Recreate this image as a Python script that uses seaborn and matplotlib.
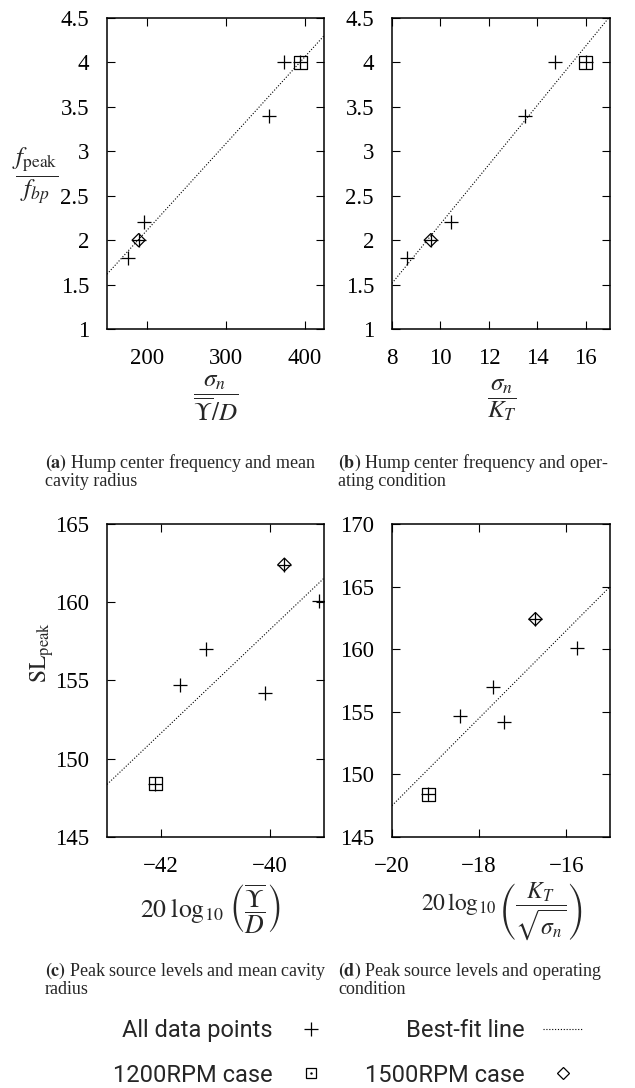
import numpy as np
import pandas as pd
import seaborn as sns
import matplotlib.pyplot as plt
from matplotlib.lines import Line2D

# Values (one entry per test case)
case_kind = ['other', '1500RPM', 'other', 'other', 'other', '1200RPM']
f_ratio = [1.8, 2.0, 2.2, 3.4, 4.0, 4.0]
sigma_over_radius = [177, 190, 197, 355, 373, 394]
sigma_over_kt = [8.6, 9.6, 10.45, 13.5, 14.75, 16.0]
sl_peak = [154.7, 162.4, 157.0, 154.2, 160.1, 148.4]
radius_db = [-41.65, -39.73, -41.18, -40.08, -39.09, -42.11]
kt_db = [-18.45, -16.71, -17.69, -17.42, -15.76, -19.17]

ratio_ticks = [1, 1.5, 2, 2.5, 3, 3.5, 4, 4.5]

sns.set_theme(style='ticks')
plt.rcParams['font.family'] = ['Liberation Serif', 'DejaVu Serif']
plt.rcParams['mathtext.fontset'] = 'stix'

TICK_FS = 16.5
LABEL_FS = 18


def fmt(t):
    return f'{t:g}'.replace('-', '\u2212')


def draw_panel(ax, x, y, xlim, ylim, xticks, yticks):
    df = pd.DataFrame({'x': x, 'y': y, 'case': case_kind})
    ax.set_xlim(xlim)
    ax.set_ylim(ylim)
    # best-fit line over the full x range
    sns.regplot(data=df, x='x', y='y', ax=ax, scatter=False, ci=None, truncate=False,
                color='black', line_kws=dict(lw=0.8, ls=(0, (1, 1.6))))
    # all data points
    sns.scatterplot(data=df, x='x', y='y', marker='+', color='black', s=90,
                    linewidth=0.9, ax=ax, legend=False)
    # special cases
    sns.scatterplot(data=df[df['case'] == '1200RPM'], x='x', y='y', marker='s', s=85,
                    facecolor='none', edgecolor='black', linewidth=0.9, ax=ax, legend=False)
    sns.scatterplot(data=df[df['case'] == '1500RPM'], x='x', y='y', marker='D', s=45,
                    facecolor='none', edgecolor='black', linewidth=0.9, ax=ax, legend=False)
    ax.set_xlim(xlim)
    ax.set_ylim(ylim)
    ax.set_xticks(xticks, labels=[fmt(t) for t in xticks])
    ax.set_yticks(yticks, labels=[fmt(t) for t in yticks])
    ax.tick_params(direction='in', top=True, right=True, length=6, width=0.8,
                   labelsize=TICK_FS, colors='black')
    ax.tick_params(axis='x', pad=14)
    ax.tick_params(axis='y', pad=13)
    for sp in ax.spines.values():
        sp.set_visible(True)
        sp.set_linewidth(1.1)
        sp.set_color('black')
    ax.set_xlabel('')
    ax.set_ylabel('')


fig = plt.figure(figsize=(6.35, 10.88), dpi=100)
ax_a = fig.add_axes([0.1685, 0.6976, 0.3417, 0.2858])
ax_b = fig.add_axes([0.6173, 0.6976, 0.3433, 0.2858])
ax_c = fig.add_axes([0.1685, 0.2307, 0.3417, 0.2877])
ax_d = fig.add_axes([0.6173, 0.2307, 0.3433, 0.2877])

draw_panel(ax_a, sigma_over_radius, f_ratio, (150, 424), (1, 4.5), [200, 300, 400], ratio_ticks)
draw_panel(ax_b, sigma_over_kt, f_ratio, (8, 17), (1, 4.5), [8, 10, 12, 14, 16], ratio_ticks)
draw_panel(ax_c, radius_db, sl_peak, (-43, -39), (145, 165), [-42, -40], [145, 150, 155, 160, 165])
draw_panel(ax_d, kt_db, sl_peak, (-20, -15), (145, 170), [-20, -18, -16], [145, 150, 155, 160, 165, 170])

# axis labels
ax_a.set_ylabel(r'$\dfrac{f_{\mathrm{peak}}}{f_{bp}}$', rotation=0, fontsize=18, ha='center', va='center')
ax_a.yaxis.set_label_coords(-0.33, 0.49)
ax_a.set_xlabel(r'$\dfrac{\sigma_n}{\overline{\Upsilon}/D}$', fontsize=LABEL_FS, va='center')
ax_a.xaxis.set_label_coords(0.50, -0.225)
ax_b.set_xlabel(r'$\dfrac{\sigma_n}{K_T}$', fontsize=LABEL_FS, va='center')
ax_b.xaxis.set_label_coords(0.505, -0.23)

ax_c.set_ylabel(r'$\mathrm{SL}_{\mathrm{peak}}$', fontsize=17, ha='center', va='center')
ax_c.yaxis.set_label_coords(-0.30, 0.59)
ax_c.set_xlabel(r'$20\;\log_{10}\,\left(\dfrac{\overline{\Upsilon}}{D}\right)$', fontsize=18.5, va='center')
ax_c.xaxis.set_label_coords(0.475, -0.232)
ax_d.set_xlabel(r'$20\,\log_{10}\left(\dfrac{K_T}{\sqrt{\sigma_n}}\right)$', fontsize=17, va='center')
ax_d.xaxis.set_label_coords(0.504, -0.236)

# sub-captions
W, H = 635, 1088
cap_fs = 13
captions = [
    (45, 463, r'$\mathbf{(a)}$ Hump center frequency and mean', 'cavity radius'),
    (338, 463, r'$\mathbf{(b)}$ Hump center frequency and oper-', 'ating condition'),
    (45, 971, r'$\mathbf{(c)}$ Peak source levels and mean cavity', 'radius'),
    (338, 971, r'$\mathbf{(d)}$ Peak source levels and operating', 'condition'),
]
for x0, y0, line1, line2 in captions:
    fig.text(x0 / W, 1 - y0 / H, line1, fontsize=cap_fs, va='center', ha='left')
    fig.text(x0 / W, 1 - (y0 + 18) / H, line2, fontsize=cap_fs, va='center', ha='left')

# shared legend
h_all = Line2D([], [], marker='+', color='black', ls='none', markersize=10, mew=0.9)
h_fit = Line2D([], [], color='black', lw=0.8, ls=(0, (1, 1.6)))
h_1200 = (Line2D([], [], marker='s', mfc='none', mec='black', ls='none', markersize=7, mew=0.9),
          Line2D([], [], marker='.', color='black', ls='none', markersize=1.5))
h_1500 = Line2D([], [], marker='D', mfc='none', mec='black', ls='none', markersize=6, mew=0.9)
fig.legend([h_all, h_1200, h_fit, h_1500],
           ['All data points', '1200RPM case', 'Best-fit line', '1500RPM case'],
           ncol=2, loc='center', bbox_to_anchor=(348 / W, 1 - 1053 / H), frameon=False,
           markerfirst=False, prop={'family': 'Roboto', 'size': 17},
           handlelength=1.7, handletextpad=0.8, columnspacing=1.4, labelspacing=0.9,
           borderpad=0)

fig.savefig('out.png', dpi=100)
